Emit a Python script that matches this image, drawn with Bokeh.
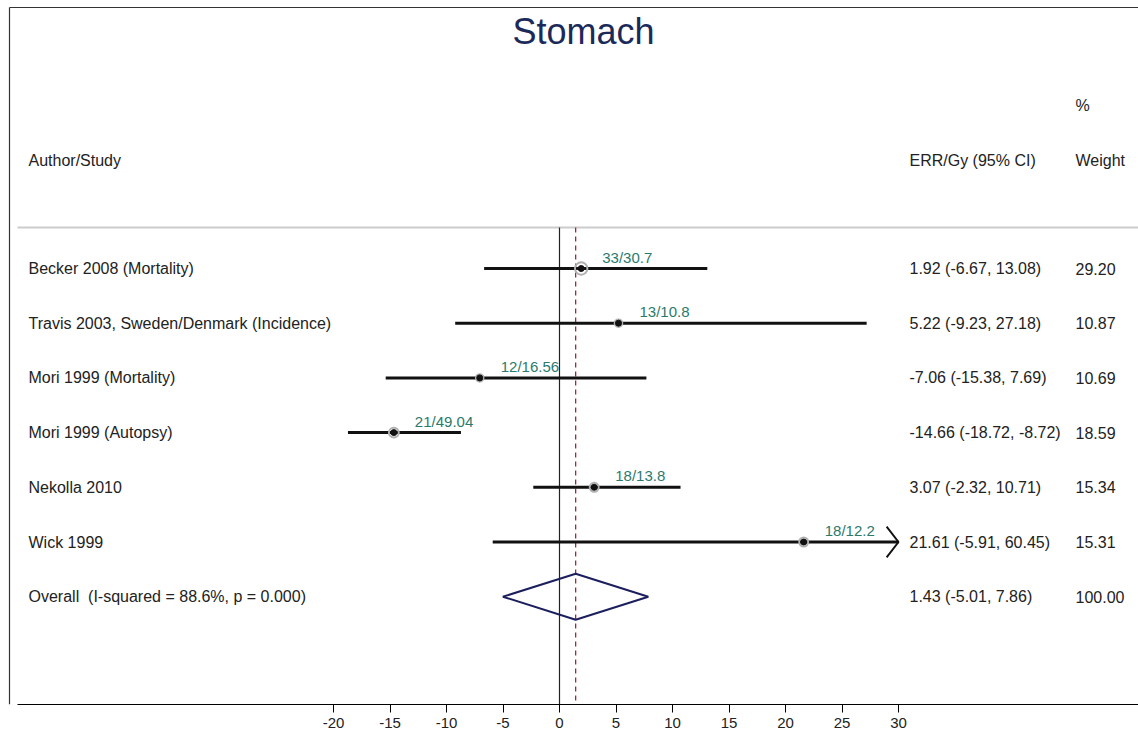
from bokeh.plotting import figure
from bokeh.models import Range1d, FixedTicker, ColumnDataSource, CustomJSTickFormatter
from bokeh.core.properties import value
from bokeh.embed import file_html
from bokeh.resources import INLINE

# ---------------- data ----------------
studies = ["Becker 2008 (Mortality)",
           "Travis 2003, Sweden/Denmark (Incidence)",
           "Mori 1999 (Mortality)",
           "Mori 1999 (Autopsy)",
           "Nekolla 2010",
           "Wick 1999"]
err = [1.92, 5.22, -7.06, -14.66, 3.07, 21.61]
lower = [-6.67, -9.23, -15.38, -18.72, -2.32, -5.91]
upper = [13.08, 27.18, 7.69, -8.72, 10.71, 60.45]
weights = [29.20, 10.87, 10.69, 18.59, 15.34, 15.31]
cases = ["33/30.7", "13/10.8", "12/16.56", "21/49.04", "18/13.8", "18/12.2"]
overall_label = "Overall\u00a0 (I-squared = 88.6%, p = 0.000)"
overall_est = 1.43
overall_lo = -5.01
overall_hi = 7.86
overall_weight = 100.00
x_ticks = [-20, -15, -10, -5, 0, 5, 10, 15, 20, 25, 30]
title = "Stomach"

# ---------------- layout helpers ----------------
W, H = 1138, 747
BOTTOM = 43
PX_PER_UNIT = 11.3
X0_PX = 559
ROW0_PX = 268
ROW_PX = 54.7
FRAME_H = H - BOTTOM

def xd(px):
    return (px - X0_PX) / PX_PER_UNIT

def yd(px):
    return (px - ROW0_PX) / ROW_PX

FONT = value("Liberation Sans")
TXT = "#222222"
x_max = max(x_ticks)

p = figure(width=W, height=H, output_backend="svg", toolbar_location=None,
           x_range=Range1d(xd(0), xd(W)), y_range=Range1d(yd(FRAME_H), yd(0)),
           min_border_left=0, min_border_right=0, min_border_top=0,
           min_border_bottom=BOTTOM)
p.outline_line_color = None
p.grid.visible = False
p.yaxis.visible = False
p.background_fill_color = "white"
p.border_fill_color = "white"

ax = p.xaxis[0]
ax.ticker = FixedTicker(ticks=x_ticks)
ax.formatter = CustomJSTickFormatter(code="return tick.toString();")
ax.bounds = (xd(17), xd(W))
ax.axis_line_color = "black"
ax.axis_line_width = 1
ax.major_tick_in = 0
ax.major_tick_out = 8
ax.major_tick_line_color = "black"
ax.minor_tick_line_color = None
ax.major_label_standoff = 5
ax.major_label_text_font = "Liberation Sans"
ax.major_label_text_font_size = "15px"
ax.major_label_text_color = TXT

rows = list(range(len(studies)))
n = len(studies)

# frame lines (top + left) and header separator
p.segment(x0=[xd(9), xd(9)], y0=[yd(7), yd(7)], x1=[xd(W), xd(9)], y1=[yd(7), yd(FRAME_H)],
          line_color="#333333", line_width=1.2)
p.segment(x0=[xd(17)], y0=[yd(227)], x1=[xd(W)], y1=[yd(227)],
          line_color="#cccccc", line_width=2)

# reference lines
p.segment(x0=[0], y0=[yd(227)], x1=[0], y1=[yd(FRAME_H)], line_color="#222222", line_width=1.2)
p.segment(x0=[overall_est], y0=[yd(227)], x1=[overall_est], y1=[yd(FRAME_H)],
          line_color="#a0283c", line_width=1.3, line_dash="5 4")

# CI lines (clipped at axis max)
clip_hi = [min(u, x_max) for u in upper]
src = ColumnDataSource(dict(y=rows, est=err, lo=lower, hi=clip_hi, up=upper,
                            w=weights, cases=cases, name=studies,
                            size=[2.3 * (w ** 0.5) for w in weights],
                            ci=[f"{e:.2f} ({l:.2f}, {u:.2f})" for e, l, u in zip(err, lower, upper)],
                            wt=[f"{w:.2f}" for w in weights]))
p.segment(x0="lo", y0="y", x1="hi", y1="y", source=src, line_color="#111111", line_width=3)

# arrowheads for clipped CIs
ax_x, ax_y = [], []
for r, u in zip(rows, upper):
    if u > x_max:
        ax_x.append([x_max - 1.05, x_max, x_max - 1.05])
        ax_y.append([r - 0.28, r, r + 0.28])
if ax_x:
    p.multi_line(xs=ax_x, ys=ax_y, line_color="#111111", line_width=2)

# weight rings + point estimates
p.scatter(x="est", y="y", size="size", source=src, fill_color=None,
          line_color="#b0b0b0", line_width=2)
p.scatter(x="est", y="y", size=6, source=src, fill_color="#111111", line_color="#111111")

# case annotations
p.text(x="est", y="y", text="cases", source=src, x_offset=21, y_offset=-3,
       text_baseline="bottom", text_align="left", text_font=FONT,
       text_font_size="15px", text_color="#2b7a6e")

# overall diamond
p.patch(x=[overall_lo, overall_est, overall_hi, overall_est, overall_lo],
        y=[n, n - 0.42, n, n + 0.42, n],
        fill_color=None, line_color="#1c1f5e", line_width=2)

# left column labels
p.text(x=xd(28), y=rows + [n], text=studies + [overall_label], text_font=FONT,
       text_font_size="16px", text_color=TXT, text_baseline="middle", text_align="left")

# right columns
p.text(x=xd(909), y="y", text="ci", source=src, text_font=FONT, text_font_size="16px",
       text_color=TXT, text_baseline="middle", text_align="left")
p.text(x=xd(1075), y="y", text="wt", source=src, text_font=FONT, text_font_size="16px",
       text_color=TXT, text_baseline="middle", text_align="left")
p.text(x=[xd(909), xd(1075)], y=[n, n],
       text=[f"{overall_est:.2f} ({overall_lo:.2f}, {overall_hi:.2f})", f"{overall_weight:.2f}"],
       text_font=FONT, text_font_size="16px", text_color=TXT,
       text_baseline="middle", text_align="left")

# headers
p.text(x=[xd(28), xd(909), xd(1075), xd(1075)], y=[yd(160), yd(160), yd(160), yd(105)],
       text=["Author/Study", "ERR/Gy (95% CI)", "Weight", "%"],
       text_font=FONT, text_font_size="16px", text_color=TXT,
       text_baseline="middle", text_align="left")

# title
p.text(x=[xd(583)], y=[yd(31)], text=[title], text_font=FONT, text_font_size="36px",
       text_color="#1c2a5a", text_baseline="middle", text_align="center")

open("out.html", "w").write(file_html(p, INLINE))
